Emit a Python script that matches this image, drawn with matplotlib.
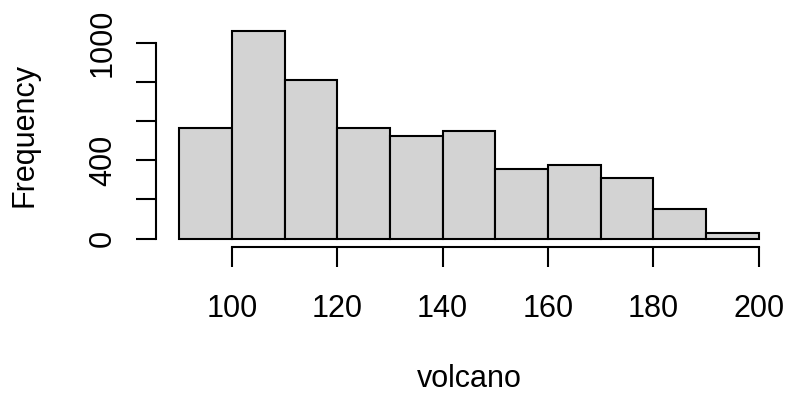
import numpy as np
import matplotlib
matplotlib.use("Agg")
import matplotlib.pyplot as plt

# hist(volcano) style: breaks every 10 from 90 to 200
breaks = [90, 100, 110, 120, 130, 140, 150, 160, 170, 180, 190, 200]
counts = [565, 1058, 810, 567, 522, 550, 356, 378, 312, 149, 27]
xticks = [100, 120, 140, 160, 180, 200]
yticks = [0, 200, 400, 600, 800, 1000]
ylabels = ["0", "", "400", "", "", "1000"]

plt.rcParams['font.family'] = ['Liberation Sans', 'DejaVu Sans']

W, H = 788, 395
fig = plt.figure(figsize=(W / 100, H / 100), dpi=100)
ax = fig.add_axes([156 / W, 1 - 247 / H, (782 - 156) / W, (247 - 23) / H])

lefts = np.array(breaks[:-1])
widths = np.diff(breaks)
ax.bar(lefts, counts, width=widths, align='edge', color='#d3d3d3',
       edgecolor='black', linewidth=1.5)

ax.set_xlim(90 - 0.04 * 110, 200 + 0.04 * 110)
ax.set_ylim(-0.04 * max(counts), max(counts) * 1.04)

for s in ['top', 'right']:
    ax.spines[s].set_visible(False)
ax.spines['bottom'].set_bounds(100, 200)
ax.spines['left'].set_bounds(0, 1000)
ax.spines['bottom'].set_linewidth(1.5)
ax.spines['left'].set_linewidth(1.5)

fs = 22
ax.set_xticks(xticks)
ax.set_xticklabels([str(t) for t in xticks])
ax.set_yticks(yticks)
ax.set_yticklabels(ylabels, rotation=90, va='center')
ax.tick_params(axis='both', length=14.4, width=1.5, labelsize=fs)
ax.tick_params(axis='x', pad=19.5)
ax.tick_params(axis='y', pad=13)

ax.set_xlabel('volcano', fontsize=fs, labelpad=28.5)
ax.set_ylabel('Frequency', fontsize=fs, labelpad=35)

fig.savefig('out.png', dpi=100)
